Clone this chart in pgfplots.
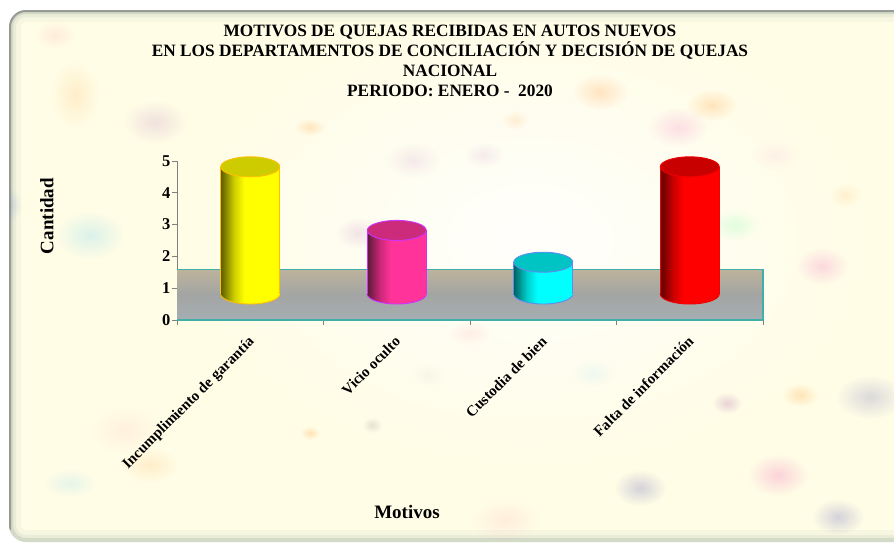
\documentclass[border=0pt]{standalone}
\usepackage{fontspec}
\setmainfont{Liberation Serif}
\usepackage{pgfplots}
\pgfplotsset{compat=1.18}
\usetikzlibrary{shapes.geometric,fadings}
\pgfdeclarehorizontalshading{cylY}{100bp}{rgb(0bp)=(0.36,0.36,0);rgb(25bp)=(0.36,0.36,0);rgb(36bp)=(0.8,0.8,0);rgb(45bp)=(1,1,0);rgb(100bp)=(1,1,0)}
\pgfdeclarehorizontalshading{cylP}{100bp}{rgb(0bp)=(0.36,0.1,0.22);rgb(25bp)=(0.36,0.1,0.22);rgb(36bp)=(0.8,0.16,0.48);rgb(45bp)=(1,0.2,0.6);rgb(100bp)=(1,0.2,0.6)}
\pgfdeclarehorizontalshading{cylC}{100bp}{rgb(0bp)=(0,0.38,0.38);rgb(25bp)=(0,0.38,0.38);rgb(36bp)=(0,0.8,0.8);rgb(45bp)=(0,1,1);rgb(100bp)=(0,1,1)}
\pgfdeclarehorizontalshading{cylR}{100bp}{rgb(0bp)=(0.36,0,0);rgb(25bp)=(0.36,0,0);rgb(36bp)=(0.8,0,0);rgb(45bp)=(1,0,0);rgb(100bp)=(1,0,0)}
\newcommand{\blob}[6]{\fill[#5,path fading=fuzzy,fill opacity=#6] (#1pt,-#2pt) ellipse [x radius=#3pt,y radius=#4pt];}
\tikzfading[name=fuzzy,inner color=transparent!0,outer color=transparent!100]
\definecolor{cream}{HTML}{FFFDE6}
\definecolor{floorT}{HTML}{BDB39C}
\definecolor{floorM}{HTML}{A3A5A3}
\definecolor{floorB}{HTML}{A6AEB2}
\definecolor{tealL}{HTML}{3FAFA8}
\definecolor{edgeY}{HTML}{FFC000}
\definecolor{capY}{HTML}{CCCC00}
\definecolor{edgeP}{HTML}{CC33FF}
\definecolor{capP}{HTML}{CC2A7A}
\definecolor{edgeC}{HTML}{5C8CF0}
\definecolor{capC}{HTML}{00C4C4}
\definecolor{edgeR}{HTML}{F00000}
\definecolor{capR}{HTML}{C80000}
\definecolor{rim}{HTML}{8FA59A}
\pgfplotsset{
 cyl/.style={forget plot,ybar,bar width=59pt,bar shift=0pt,draw=none,shading=#1},
 capnode/.style n args={2}{forget plot,only marks,mark=none,nodes near coords={},
   every node near coord/.style={ellipse,anchor=center,inner sep=0pt,minimum width=59pt,minimum height=20pt,draw=#1,line width=0.9pt,fill=#2}},
 botnode/.style n args={2}{forget plot,only marks,mark=none,nodes near coords={},
   every node near coord/.style={ellipse,anchor=center,inner sep=0pt,minimum width=59pt,minimum height=20pt,draw=#1,line width=0.9pt,shading=#2}},
 side/.style={forget plot,ycomb,mark=none,line width=0.9pt,color=#1},
 layer/.style={at={(177pt,-294pt)},anchor=south west,scale only axis,width=586pt,height=159pt,
   xmin=0,xmax=4,ymin=0,ymax=5,hide axis,clip=false},
}
\begin{document}
\begin{tikzpicture}[font=\bfseries]
\path[use as bounding box] (0pt,0pt) rectangle (894pt,-542pt);
\begin{scope}
\clip (0pt,0pt) rectangle (894pt,-542pt);
\fill[white] (0pt,0pt) rectangle (894pt,-542pt);
\fill[cream,rounded corners=17pt] (9pt,-10pt) rectangle (910pt,-542pt);
\begin{scope}
\clip[rounded corners=17pt] (9pt,-10pt) rectangle (910pt,-542pt);
\blob{530}{240}{340}{230}{white}{.9}
\blob{55}{35}{20}{14}{pink}{.28}
\blob{75}{95}{24}{34}{orange}{.12}
\blob{155}{122}{32}{22}{violet!50}{.22}
\blob{600}{92}{28}{18}{orange!70!pink}{.24}
\blob{712}{105}{26}{16}{orange}{.2}
\blob{678}{127}{30}{20}{magenta!50}{.24}
\blob{515}{120}{14}{10}{orange}{.12}
\blob{310}{127}{16}{9}{orange}{.18}
\blob{413}{160}{28}{18}{violet!50}{.15}
\blob{484}{155}{20}{13}{violet!50}{.15}
\blob{775}{155}{24}{16}{magenta!40}{.12}
\blob{845}{195}{16}{12}{orange}{.1}
\blob{90}{235}{34}{24}{cyan!60}{.24}
\blob{358}{233}{22}{16}{violet!50}{.2}
\blob{735}{225}{24}{16}{green!60!cyan}{.12}
\blob{822}{266}{26}{19}{magenta!60}{.24}
\blob{10}{205}{12}{16}{blue!50}{.2}
\blob{470}{333}{22}{13}{pink}{.25}
\blob{593}{373}{22}{14}{cyan!50}{.12}
\blob{428}{375}{16}{12}{gray}{.06}
\blob{800}{395}{18}{12}{orange}{.2}
\blob{727}{403}{15}{11}{violet!70}{.24}
\blob{870}{397}{34}{22}{blue!40!gray}{.2}
\blob{125}{430}{34}{24}{pink}{.2}
\blob{310}{433}{10}{7}{orange}{.2}
\blob{372}{425}{10}{8}{gray}{.2}
\blob{150}{465}{28}{18}{orange}{.12}
\blob{70}{483}{26}{14}{cyan!50}{.2}
\blob{778}{475}{30}{21}{magenta!60}{.28}
\blob{640}{488}{26}{18}{blue!40!gray}{.24}
\blob{838}{517}{26}{18}{blue!40!gray}{.24}
\blob{505}{520}{34}{21}{pink}{.25}
\draw[rim,line width=24pt,opacity=.07,rounded corners=17pt] (9pt,-10pt) rectangle (910pt,-542pt);
\draw[rim,line width=14pt,opacity=.12,rounded corners=17pt] (9pt,-10pt) rectangle (910pt,-542pt);
\draw[rim,line width=8pt,opacity=.25,rounded corners=17pt] (9pt,-10pt) rectangle (910pt,-542pt);
\draw[gray,line width=4pt,opacity=.7,rounded corners=17pt] (9pt,-530pt) -- (9pt,-10pt) -- (910pt,-10pt);
\end{scope}
\end{scope}

\node[align=center,font=\bfseries\fontsize{17.3}{20}\selectfont,anchor=north] at (450pt,-22pt)
 {MOTIVOS DE QUEJAS RECIBIDAS EN AUTOS NUEVOS\\
  EN LOS DEPARTAMENTOS DE CONCILIACIÓN Y DECISIÓN DE QUEJAS\\
  NACIONAL\\
  PERIODO: ENERO -\ \ 2020};
\node[rotate=90,font=\bfseries\fontsize{19}{19}\selectfont] at (47pt,-216pt) {Cantidad};
\node[font=\bfseries\fontsize{19}{19}\selectfont] at (407pt,-512pt) {Motivos};

\begin{axis}[
 at={(177pt,-320pt)},anchor=south west,scale only axis,width=586pt,height=159pt,
 xmin=0,xmax=4,ymin=0,ymax=5,
 axis x line*=bottom,axis y line*=left,
 axis line style={draw=gray,line width=1pt,-},
 xtick={0.5,1.5,2.5,3.5},
 xticklabels={Incumplimiento de garantía,Vicio oculto,Custodia de bien,Falta de información},
 minor xtick={0,1,2,3,4},
 major x tick style={draw=none},
 minor x tick style={draw=gray,line width=0.8pt},
 minor tick length=5pt,
 ytick={0,1,2,3,4,5},
 y tick style={draw=gray,line width=1pt},
 major tick length=5pt,
 tick align=outside,
 /pgf/number format/assume math mode=true,
 yticklabel style={font=\bfseries\fontsize{16.5}{16.5}\selectfont,xshift=2pt},
 xticklabel style={font=\bfseries\fontsize{15}{15}\selectfont,rotate=45,anchor=north east,xshift=-8pt,yshift=-4pt,inner sep=1pt},
 clip=false,
]
\fill[shade,top color=floorT,bottom color=floorB,middle color=floorM]
  (axis cs:0,0) rectangle (axis cs:4,1.6);
\draw[draw=tealL,line width=1.1pt] (axis cs:0,1.6) -- (axis cs:4,1.6) -- (axis cs:4,0);
\draw[draw=tealL,line width=2pt] (axis cs:0,0) -- (axis cs:4,0);
\end{axis}

% bottom caps of the cylinders
\begin{axis}[layer]
\addplot[botnode={edgeY}{cylY}] coordinates {(0.5,0)};
\addplot[botnode={edgeP}{cylP}] coordinates {(1.5,0)};
\addplot[botnode={edgeC}{cylC}] coordinates {(2.5,0)};
\addplot[botnode={edgeR}{cylR}] coordinates {(3.5,0)};
\end{axis}

% bodies: Incumplimiento 4, Vicio oculto 2, Custodia 1, Falta de informacion 4
\begin{axis}[layer]
\addplot[cyl=cylY] coordinates {(0.5,4)};
\addplot[cyl=cylP] coordinates {(1.5,2)};
\addplot[cyl=cylC] coordinates {(2.5,1)};
\addplot[cyl=cylR] coordinates {(3.5,4)};
\addplot[side=edgeY] coordinates {(0.2986,4) (0.7014,4)};
\addplot[side=edgeP] coordinates {(1.2986,2) (1.7014,2)};
\addplot[side=edgeC] coordinates {(2.2986,1) (2.7014,1)};
\addplot[side=edgeR] coordinates {(3.2986,4) (3.7014,4)};
\end{axis}

% top caps
\begin{axis}[layer]
\addplot[capnode={edgeY}{capY}] coordinates {(0.5,4)};
\addplot[capnode={edgeP}{capP}] coordinates {(1.5,2)};
\addplot[capnode={edgeC}{capC}] coordinates {(2.5,1)};
\addplot[capnode={edgeR}{capR}] coordinates {(3.5,4)};
\end{axis}
\end{tikzpicture}
\end{document}
